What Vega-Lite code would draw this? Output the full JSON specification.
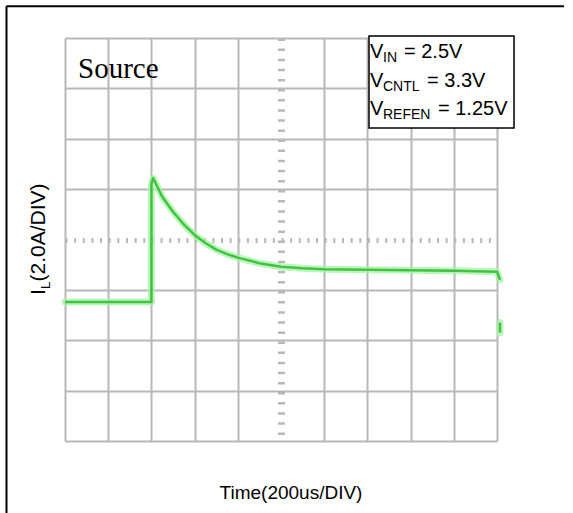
{
  "$schema": "https://vega.github.io/schema/vega-lite/v6.json",
  "width": 432,
  "height": 403,
  "autosize": {"type": "none"},
  "padding": {"left": 65, "top": 38, "right": 76, "bottom": 72},
  "background": "white",
  "config": {"view": {"stroke": null}, "font": "Liberation Sans"},
  "datasets": {
    "trace": [
      {"k": 0, "t": 0, "i": 2.76, "seg": "a"},
      {"k": 1, "t": 1, "i": 2.76, "seg": "a"},
      {"k": 2, "t": 2.0, "i": 2.76, "seg": "a"},
      {"k": 3, "t": 2.0, "i": 5.1, "seg": "a"},
      {"k": 4, "t": 2.04, "i": 5.22, "seg": "a"},
      {"k": 5, "t": 2.25, "i": 4.85, "seg": "a"},
      {"k": 6, "t": 2.5, "i": 4.55, "seg": "a"},
      {"k": 7, "t": 2.75, "i": 4.3, "seg": "a"},
      {"k": 8, "t": 3.0, "i": 4.09, "seg": "a"},
      {"k": 9, "t": 3.25, "i": 3.93, "seg": "a"},
      {"k": 10, "t": 3.5, "i": 3.8, "seg": "a"},
      {"k": 11, "t": 3.75, "i": 3.71, "seg": "a"},
      {"k": 12, "t": 4.0, "i": 3.64, "seg": "a"},
      {"k": 13, "t": 4.5, "i": 3.53, "seg": "a"},
      {"k": 14, "t": 5.0, "i": 3.46, "seg": "a"},
      {"k": 15, "t": 5.5, "i": 3.43, "seg": "a"},
      {"k": 16, "t": 6.0, "i": 3.41, "seg": "a"},
      {"k": 17, "t": 7.0, "i": 3.4, "seg": "a"},
      {"k": 18, "t": 8.0, "i": 3.39, "seg": "a"},
      {"k": 19, "t": 9.0, "i": 3.38, "seg": "a"},
      {"k": 20, "t": 10.0, "i": 3.36, "seg": "a"},
      {"k": 21, "t": 10.07, "i": 3.2, "seg": "a"},
      {"k": 22, "t": 10.07, "i": 2.35, "seg": "b"},
      {"k": 23, "t": 10.07, "i": 2.15, "seg": "b"}
    ]
  },
  "layer": [
    {
      "data": {"name": "trace"},
      "mark": {"type": "line", "color": "#a8f2a8", "strokeWidth": 7, "opacity": 0.75, "strokeCap": "round", "strokeJoin": "round"},
      "encoding": {
        "x": {
          "field": "t", "type": "quantitative",
          "scale": {"domain": [0, 10], "nice": false, "zero": false},
          "axis": {
            "values": [0, 1, 2, 3, 4, 5, 6, 7, 8, 9, 10],
            "grid": true, "domain": false, "ticks": false, "labels": false, "title": null,
            "gridColor": "#b8b8b8",
            "gridWidth": {"condition": {"test": "datum.value === 5", "value": 7}, "value": 2},
            "gridDash": {"condition": {"test": "datum.value === 5", "value": [2.5, 7.6]}, "value": []}
          }
        },
        "y": {
          "field": "i", "type": "quantitative",
          "scale": {"domain": [0, 8], "nice": false, "zero": false},
          "axis": {
            "values": [0, 1, 2, 3, 4, 5, 6, 7, 8],
            "grid": true, "domain": false, "ticks": false, "labels": false, "title": null,
            "gridColor": "#b8b8b8",
            "gridWidth": {"condition": {"test": "datum.value === 4", "value": 5}, "value": 2},
            "gridDash": {"condition": {"test": "datum.value === 4", "value": [2, 6.64]}, "value": []}
          }
        },
        "detail": {"field": "seg"},
        "order": {"field": "k"}
      }
    },
    {
      "data": {"name": "trace"},
      "mark": {"type": "line", "color": "#3ec43e", "strokeWidth": 2.5, "strokeJoin": "round"},
      "encoding": {
        "x": {"field": "t", "type": "quantitative"},
        "y": {"field": "i", "type": "quantitative"},
        "detail": {"field": "seg"},
        "order": {"field": "k"}
      }
    },
    {
      "data": {"values": [{}]},
      "mark": {"type": "rule", "color": "black", "strokeWidth": 2},
      "encoding": {
        "x": {"datum": -1.354, "type": "quantitative"},
        "y": {"datum": 8.63, "type": "quantitative"},
        "y2": {"datum": -1.7}
      }
    },
    {
      "data": {"values": [{}]},
      "mark": {"type": "rule", "color": "black", "strokeWidth": 2},
      "encoding": {
        "x": {"datum": -1.354, "type": "quantitative"},
        "x2": {"datum": 11.55},
        "y": {"datum": 8.63, "type": "quantitative"}
      }
    },
    {
      "data": {"values": [{}]},
      "mark": {"type": "rect", "fill": "white", "stroke": "black", "strokeWidth": 1.5},
      "encoding": {
        "x": {"datum": 7.037, "type": "quantitative"},
        "x2": {"datum": 10.394},
        "y": {"datum": 8.04, "type": "quantitative"},
        "y2": {"datum": 6.213}
      }
    },
    {
      "data": {"values": [{}]},
      "mark": {"type": "text", "text": "Source", "font": "Liberation Serif", "fontSize": 29, "align": "left", "baseline": "alphabetic", "color": "black"},
      "encoding": {"x": {"datum": 0.301, "type": "quantitative"}, "y": {"datum": 7.206, "type": "quantitative"}}
    },
    {
      "data": {"values": [{}]},
      "mark": {"type": "text", "text": "V", "fontSize": 20, "align": "left", "baseline": "alphabetic", "color": "black"},
      "encoding": {"x": {"datum": 7.06, "type": "quantitative"}, "y": {"datum": 7.603, "type": "quantitative"}}
    },
    {
      "data": {"values": [{}]},
      "mark": {"type": "text", "text": "IN", "fontSize": 14, "align": "left", "baseline": "alphabetic", "color": "black"},
      "encoding": {"x": {"datum": 7.361, "type": "quantitative"}, "y": {"datum": 7.524, "type": "quantitative"}}
    },
    {
      "data": {"values": [{}]},
      "mark": {"type": "text", "text": "= 2.5V", "fontSize": 20, "align": "left", "baseline": "alphabetic", "color": "black"},
      "encoding": {"x": {"datum": 7.847, "type": "quantitative"}, "y": {"datum": 7.603, "type": "quantitative"}}
    },
    {
      "data": {"values": [{}]},
      "mark": {"type": "text", "text": "V", "fontSize": 20, "align": "left", "baseline": "alphabetic", "color": "black"},
      "encoding": {"x": {"datum": 7.06, "type": "quantitative"}, "y": {"datum": 7.027, "type": "quantitative"}}
    },
    {
      "data": {"values": [{}]},
      "mark": {"type": "text", "text": "CNTL", "fontSize": 14, "align": "left", "baseline": "alphabetic", "color": "black"},
      "encoding": {"x": {"datum": 7.361, "type": "quantitative"}, "y": {"datum": 6.948, "type": "quantitative"}}
    },
    {
      "data": {"values": [{}]},
      "mark": {"type": "text", "text": "= 3.3V", "fontSize": 20, "align": "left", "baseline": "alphabetic", "color": "black"},
      "encoding": {"x": {"datum": 8.38, "type": "quantitative"}, "y": {"datum": 7.027, "type": "quantitative"}}
    },
    {
      "data": {"values": [{}]},
      "mark": {"type": "text", "text": "V", "fontSize": 20, "align": "left", "baseline": "alphabetic", "color": "black"},
      "encoding": {"x": {"datum": 7.06, "type": "quantitative"}, "y": {"datum": 6.471, "type": "quantitative"}}
    },
    {
      "data": {"values": [{}]},
      "mark": {"type": "text", "text": "REFEN", "fontSize": 14, "align": "left", "baseline": "alphabetic", "color": "black"},
      "encoding": {"x": {"datum": 7.361, "type": "quantitative"}, "y": {"datum": 6.392, "type": "quantitative"}}
    },
    {
      "data": {"values": [{}]},
      "mark": {"type": "text", "text": "= 1.25V", "fontSize": 20, "align": "left", "baseline": "alphabetic", "color": "black"},
      "encoding": {"x": {"datum": 8.634, "type": "quantitative"}, "y": {"datum": 6.471, "type": "quantitative"}}
    },
    {
      "data": {"values": [{}]},
      "mark": {"type": "text", "text": "Time(200us/DIV)", "fontSize": 19, "align": "center", "baseline": "alphabetic", "color": "black"},
      "encoding": {"x": {"datum": 5.231, "type": "quantitative"}, "y": {"datum": -1.151, "type": "quantitative"}}
    },
    {
      "data": {"values": [{}]},
      "mark": {"type": "text", "text": "I", "fontSize": 21, "angle": 270, "align": "left", "baseline": "alphabetic", "color": "black"},
      "encoding": {"x": {"datum": -0.463, "type": "quantitative"}, "y": {"datum": 2.898, "type": "quantitative"}}
    },
    {
      "data": {"values": [{}]},
      "mark": {"type": "text", "text": "L", "fontSize": 13.5, "angle": 270, "align": "left", "baseline": "alphabetic", "color": "black"},
      "encoding": {"x": {"datum": -0.347, "type": "quantitative"}, "y": {"datum": 3.017, "type": "quantitative"}}
    },
    {
      "data": {"values": [{}]},
      "mark": {"type": "text", "text": "(2.0A/DIV)", "fontSize": 21, "angle": 270, "align": "left", "baseline": "alphabetic", "color": "black"},
      "encoding": {"x": {"datum": -0.463, "type": "quantitative"}, "y": {"datum": 3.166, "type": "quantitative"}}
    }
  ]
}
